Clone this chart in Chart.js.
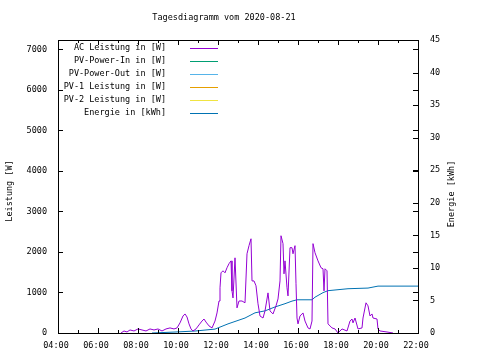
<!DOCTYPE html>
<html>
<head>
<meta charset="utf-8">
<script src="https://cdn.jsdelivr.net/npm/chart.js@4"></script>
<style>
  html, body { margin: 0; padding: 0; background: #fff; }
</style>
</head>
<body>
<canvas id="chart" width="480" height="360"></canvas>
<script>
const chartTitle = 'Tagesdiagramm vom 2020-08-21';
const leftTitle = 'Leistung [W]';
const rightTitle = 'Energie [kWh]';

// tick values
const powerTicks = [0, 1000, 2000, 3000, 4000, 5000, 6000, 7000];
const energyTicks = [0, 5, 10, 15, 20, 25, 30, 35, 40, 45];
const hourTicks = [4, 6, 8, 10, 12, 14, 16, 18, 20, 22];

// AC power, time in hours of day
const acTime = [7.15, 7.30, 7.45, 7.60, 7.80, 8.00, 8.20, 8.40, 8.60, 8.80,
  9.00, 9.20, 9.40, 9.60, 9.80, 9.95, 10.10, 10.25, 10.35, 10.45,
  10.55, 10.65, 10.75, 10.90, 11.05, 11.20, 11.30, 11.40, 11.55, 11.70,
  11.85, 11.95, 12.05, 12.10, 12.15, 12.25, 12.35, 12.45, 12.55, 12.65,
  12.70, 12.75, 12.85, 12.95, 13.05, 13.20, 13.35, 13.45, 13.55, 13.65,
  13.70, 13.80, 13.90, 14.00, 14.10, 14.25, 14.35, 14.50, 14.60, 14.75,
  14.90, 15.00, 15.10, 15.15, 15.25, 15.30, 15.35, 15.45, 15.50, 15.60,
  15.70, 15.75, 15.85, 15.90, 15.95, 16.00, 16.10, 16.25, 16.35, 16.50,
  16.60, 16.70, 16.75, 16.85, 17.00, 17.15, 17.25, 17.30, 17.35, 17.45,
  17.50, 17.70, 17.85, 18.00, 18.20, 18.45, 18.60, 18.70, 18.75, 18.85,
  19.00, 19.20, 19.25, 19.40, 19.50, 19.60, 19.70, 19.75, 19.95, 20.00,
  20.10, 20.45, 20.75];
const acPower = [0, 50, 25, 75, 50, 100, 75, 50, 100, 75,
  100, 50, 100, 125, 100, 125, 250, 420, 470, 395,
  225, 100, 50, 100, 200, 295, 345, 270, 175, 125,
  295, 495, 790, 1115, 1485, 1535, 1485, 1610, 1710, 1780,
  1040, 865, 1855, 620, 790, 790, 745, 1955, 2155, 2325,
  1285, 1285, 1165, 720, 420, 370, 545, 990, 545, 470,
  670, 840, 1285, 2400, 2205, 1460, 1780, 1115, 915, 2105,
  2105, 1955, 2155, 1215, 370, 225, 420, 495, 295, 125,
  100, 295, 2205, 1980, 1780, 1610, 1585, 1040, 1585, 1535,
  225, 125, 100, 0, 100, 50, 295, 345, 250, 370,
  100, 125, 370, 745, 670, 420, 470, 370, 345, 100,
  50, 25, 0];

// cumulative energy
const energyTime = [8.70, 9.85, 10.85, 11.85, 12.50, 13.35, 13.85, 14.35, 14.85, 15.35,
  15.70, 15.95, 16.70, 16.85, 17.25, 17.50, 18.50, 19.50, 20.00, 22.00];
const energyKwh = [0, 0.15, 0.3, 0.6, 1.4, 2.3, 3.1, 3.4, 4.0, 4.5,
  4.9, 5.1, 5.1, 5.5, 6.2, 6.5, 6.8, 6.9, 7.2, 7.2];

const font = { family: 'DejaVu Sans Mono', size: 8.5 };

const toPoints = (xs, ys) => xs.map((x, i) => ({ x: x, y: ys[i] }));
const asTicks = vals => vals.map(v => ({ value: v }));

function hourLabel(v) {
  const h = Math.round(v);
  return (h < 10 ? '0' : '') + h + ':00';
}

// frame, inward ticks, legend and titles like the gnuplot original
const framePlugin = {
  id: 'frame',
  afterDatasetsDraw(chart) {
    const { ctx, chartArea: a, scales } = chart;
    ctx.save();
    ctx.strokeStyle = '#000';
    ctx.lineWidth = 1;
    ctx.beginPath();
    for (let h = 4; h <= 22; h++) {
      const x = Math.round(scales.x.getPixelForValue(h)) + 0.5;
      const len = h % 2 === 0 ? 5 : 3;
      ctx.moveTo(x, a.bottom); ctx.lineTo(x, a.bottom - len);
      ctx.moveTo(x, a.top); ctx.lineTo(x, a.top + len);
    }
    powerTicks.forEach(v => {
      const y = Math.round(scales.y.getPixelForValue(v)) + 0.5;
      ctx.moveTo(a.left, y); ctx.lineTo(a.left + 5, y);
      ctx.moveTo(a.right, y); ctx.lineTo(a.right - 5, y);
    });
    energyTicks.forEach(v => {
      const y = Math.round(scales.y2.getPixelForValue(v)) + 0.5;
      ctx.moveTo(a.right, y); ctx.lineTo(a.right - 5, y);
    });
    ctx.stroke();
    ctx.strokeRect(Math.round(a.left) + 0.5, Math.round(a.top) + 0.5,
      Math.round(a.right - a.left), Math.round(a.bottom - a.top));

    ctx.fillStyle = '#000';
    ctx.font = font.size + 'px "' + font.family + '"';
    ctx.textBaseline = 'middle';

    // legend
    ctx.textAlign = 'right';
    chart.data.datasets.forEach((ds, i) => {
      const y = 48 + i * 13;
      ctx.fillText(ds.label, 166, y);
      ctx.strokeStyle = ds.borderColor;
      ctx.beginPath();
      ctx.moveTo(190, y + 0.5); ctx.lineTo(218, y + 0.5);
      ctx.stroke();
    });

    // titles
    ctx.textAlign = 'center';
    ctx.fillText(chartTitle, 224, 18);
    ctx.save();
    ctx.translate(10, 191);
    ctx.rotate(-Math.PI / 2);
    ctx.fillText(leftTitle, 0, 0);
    ctx.restore();
    ctx.save();
    ctx.translate(452, 194);
    ctx.rotate(-Math.PI / 2);
    ctx.fillText(rightTitle, 0, 0);
    ctx.restore();
    ctx.restore();
  }
};

const ctx = document.getElementById('chart').getContext('2d');
const chart = new Chart(ctx, {
  type: 'line',
  data: {
    datasets: [
      { label: 'AC Leistung in [W]', data: toPoints(acTime, acPower), borderColor: '#9400d3', yAxisID: 'y' },
      { label: 'PV-Power-In in [W]', data: [], borderColor: '#009e73', yAxisID: 'y' },
      { label: 'PV-Power-Out in [W]', data: [], borderColor: '#56b4e9', yAxisID: 'y' },
      { label: 'PV-1 Leistung in [W]', data: [], borderColor: '#e69f00', yAxisID: 'y' },
      { label: 'PV-2 Leistung in [W]', data: [], borderColor: '#f0e442', yAxisID: 'y' },
      { label: 'Energie in [kWh]', data: toPoints(energyTime, energyKwh), borderColor: '#0072b2', yAxisID: 'y2' }
    ]
  },
  options: {
    responsive: false,
    animation: false,
    devicePixelRatio: 1,
    layout: { padding: { top: 40, left: 0, right: 0, bottom: 0 } },
    elements: {
      line: { borderWidth: 1, tension: 0, fill: false },
      point: { radius: 0 }
    },
    plugins: {
      legend: { display: false },
      tooltip: { enabled: false }
    },
    scales: {
      x: {
        type: 'linear',
        min: 4,
        max: 22,
        grid: { display: false, drawTicks: false },
        border: { display: false },
        ticks: { autoSkip: false, color: '#000', font: font, padding: 8, labelOffset: -2, maxRotation: 0, callback: hourLabel },
        afterBuildTicks: s => { s.ticks = asTicks(hourTicks); },
        afterFit: s => { s.height = 27; }
      },
      y: {
        position: 'left',
        min: 0,
        max: 7230,
        grid: { display: false, drawTicks: false },
        border: { display: false },
        ticks: { autoSkip: false, color: '#000', font: font, padding: 11, callback: v => String(v) },
        afterBuildTicks: s => { s.ticks = asTicks(powerTicks); },
        afterFit: s => { s.width = 58; }
      },
      y2: {
        position: 'right',
        min: 0,
        max: 45,
        grid: { display: false, drawTicks: false },
        border: { display: false },
        ticks: { autoSkip: false, color: '#000', font: font, padding: 12, callback: v => String(v) },
        afterBuildTicks: s => { s.ticks = asTicks(energyTicks); },
        afterFit: s => { s.width = 62; }
      }
    }
  },
  plugins: [framePlugin]
});
</script>
</body>
</html>
